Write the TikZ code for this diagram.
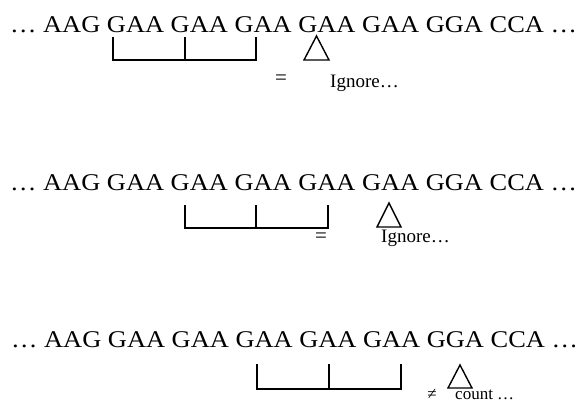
\documentclass[tikz,border=0pt]{standalone}
\usepackage{fontspec}
\setmainfont{Liberation Serif}
\newfontfamily\seqfont[FakeStretch=1.1]{Liberation Serif}
\begin{document}
\begin{tikzpicture}[x=1pt,y=-1pt,
  seq/.style={anchor=base west, inner sep=0pt, font=\seqfont\fontsize{24}{28}\selectfont},
  note/.style={anchor=base west, inner sep=0pt, font=\fontsize{19}{23}\selectfont},
  small/.style={anchor=base west, inner sep=0pt, font=\fontsize{17}{20}\selectfont},
  rel/.style={anchor=center, inner sep=0pt, font=\fontsize{21}{24}\selectfont},
  brk/.style={line width=1.3pt},
  tri/.style={line width=1.4pt, line join=miter}]
\useasboundingbox (0,0) rectangle (582,402);
% ---- line 1
\node[seq] (s1) at (10,32) {… AAG GAA GAA GAA GAA GAA GGA CCA …};
\coordinate (a1) at (113,37); \coordinate (a1b) at (113,60);
\coordinate (b1) at (185,37); \coordinate (b1b) at (185,60);
\coordinate (c1) at (256,37); \coordinate (c1b) at (256,60);
\draw[brk] (a1) -- (a1b) -- (c1b) -- (c1);
\draw[brk] (b1) -- (b1b);
\coordinate (p1) at (316.5,36); \coordinate (q1) at (304,60); \coordinate (r1) at (329,60);
\draw[tri] (p1) -- (q1) -- (r1) -- cycle;
\node[rel] (e1) at (281,80) {=};
\node[note] (i1) at (330,87) {Ignore…};
% ---- line 2
\node[seq] (s2) at (10,190) {… AAG GAA GAA GAA GAA GAA GGA CCA …};
\coordinate (a2) at (185,205); \coordinate (a2b) at (185,228);
\coordinate (b2) at (256,205); \coordinate (b2b) at (256,228);
\coordinate (c2) at (328,205); \coordinate (c2b) at (328,228);
\draw[brk] (a2) -- (a2b) -- (c2b) -- (c2);
\draw[brk] (b2) -- (b2b);
\coordinate (p2) at (389,203); \coordinate (q2) at (377,227); \coordinate (r2) at (401,227);
\draw[tri] (p2) -- (q2) -- (r2) -- cycle;
\node[rel] (e2) at (321,237.5) {=};
\node[note] (i2) at (381,242) {Ignore…};
% ---- line 3
\node[seq] (s3) at (11,347) {… AAG GAA GAA GAA GAA GAA GGA CCA …};
\coordinate (a3) at (257,364); \coordinate (a3b) at (257,389);
\coordinate (b3) at (329,364); \coordinate (b3b) at (329,389);
\coordinate (c3) at (401,364); \coordinate (c3b) at (401,389);
\draw[brk] (a3) -- (a3b) -- (c3b) -- (c3);
\draw[brk] (b3) -- (b3b);
\coordinate (p3) at (460,365); \coordinate (q3) at (448,388); \coordinate (r3) at (472,388);
\draw[tri] (p3) -- (q3) -- (r3) -- cycle;
\node[rel, font=\fontsize{17}{20}\selectfont] (e3) at (432,394) {≠};
\node[small] (i3) at (455,399) {count …};
\end{tikzpicture}
\end{document}
